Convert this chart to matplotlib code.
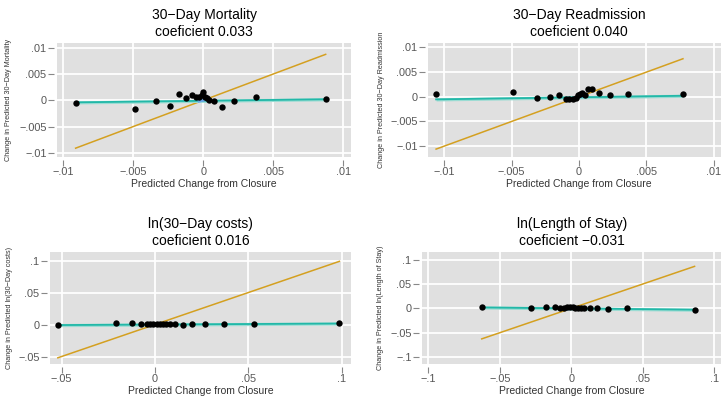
import numpy as np
import matplotlib
matplotlib.use("Agg")
import matplotlib.pyplot as plt

plt.rcParams['font.family'] = ['Liberation Sans', 'DejaVu Sans']

# binned predicted change (x) vs change in predicted outcome (y), per outcome
mort_x = [-0.00912, -0.00486, -0.00338, -0.0024, -0.00174, -0.00124, -0.00083, -0.00052,
          -0.00029, -0.00012, 0.0, 0.00012, 0.00024, 0.00043, 0.00079, 0.0013, 0.00221,
          0.00376, 0.00874]
mort_y = [-0.00045, -0.00174, -0.00014, -0.0011, 0.0011, 0.00035, 0.00104, 0.00056,
          0.0007, 0.00097, 0.0015, 0.0007, 0.00035, 0.0, -0.00014, -0.00125, -0.0002,
          0.00056, 0.0002]

readm_x = [-0.0106, -0.0049, -0.0031, -0.00217, -0.00145, -0.00099, -0.00071, -0.00042,
           -0.00022, -0.00005, 0.0001, 0.00025, 0.00044, 0.00069, 0.001, 0.0015, 0.00227,
           0.00365, 0.00771]
readm_y = [0.00065, 0.0009, -0.00028, 0.0, 0.00035, -0.00042, -0.00042, -0.0005,
           -0.0002, 0.0003, 0.0005, 0.0008, 0.00042, 0.00155, 0.00155, 0.00085, 0.0003,
           0.00056, 0.00056]

cost_x = [-0.0520, -0.0211, -0.0124, -0.0074, -0.0045, -0.0026, -0.0009, 0.0009, 0.0027,
          0.0045, 0.0057, 0.0080, 0.0108, 0.0148, 0.0199, 0.0266, 0.0368, 0.0530, 0.0988]
cost_y = [-0.0005, 0.0018, 0.0018, 0.0014, 0.001, 0.001, 0.0005, 0.001, 0.001, 0.001,
          0.0014, 0.0014, 0.001, 0.0, 0.0016, 0.001, 0.0014, 0.0014, 0.0019]

los_x = [-0.0626, -0.0284, -0.0177, -0.0114, -0.0077, -0.0049, -0.0026, -0.0007, 0.0009,
         0.0028, 0.0047, 0.0070, 0.0091, 0.0128, 0.0177, 0.0258, 0.0391, 0.0863]
los_y = [0.0020, 0.0014, 0.0020, 0.0027, 0.0014, 0.0014, 0.0020, 0.0020, 0.0020, 0.0014,
         0.0007, 0.0007, 0.0007, 0.0014, 0.0007, -0.0014, 0.0, -0.0027]

titles = ['30\u2212Day Mortality', '30\u2212Day Readmission',
          'ln(30\u2212Day costs)', 'ln(Length of Stay)']
ylabels = ['Change in Predicted 30\u2212Day Mortality',
           'Change in Predicted 30\u2212Day Readmission',
           'Change in Predicted ln(30\u2212Day costs)',
           'Change in Predicted ln(Length of Stay)']
slopes = [0.033, 0.040, 0.016, -0.031]
intercepts = [-0.0001, -0.0001, 0.0, 0.0]
blue_span = [0.0003, 0.0003, 0.002, 0.003]

xticks = [[-0.01, -0.005, 0, 0.005, 0.01], [-0.01, -0.005, 0, 0.005, 0.01],
          [-0.05, 0, 0.05, 0.1], [-0.1, -0.05, 0, 0.05, 0.1]]
yticks = [[-0.01, -0.005, 0, 0.005, 0.01], [-0.01, -0.005, 0, 0.005, 0.01],
          [-0.05, 0, 0.05, 0.1], [-0.1, -0.05, 0, 0.05, 0.1]]
xlims = [(-0.01045, 0.01055), (-0.0112, 0.0112), (-0.0562, 0.105), (-0.1044, 0.1055)]
ylims = [(-0.0108, 0.0109), (-0.0122, 0.0109), (-0.0617, 0.1134), (-0.1142, 0.1158)]

# axes boxes in pixels: left, top, right, bottom (figure is 721x397)
boxes = [(57, 43, 351, 157), (428, 43, 730, 157), (50, 252, 351, 364), (422, 252, 722, 364)]
ylab_px = [12, 385, 13, 384]

datasets = [(mort_x, mort_y), (readm_x, readm_y), (cost_x, cost_y), (los_x, los_y)]

W, H = 721, 397
fig = plt.figure(figsize=(W / 100, H / 100), dpi=100)


def fmt(v):
    if v == 0:
        return '0'
    s = ('%g' % abs(v)).lstrip('0')
    return ('\u2212' if v < 0 else '') + s


for i, (xs, ys) in enumerate(datasets):
    l, t, r, b = boxes[i]
    ax = fig.add_axes([l / W, 1 - b / H, (r - l) / W, (b - t) / H])
    ax.set_facecolor('#e0e0e0')
    for s in ax.spines.values():
        s.set_visible(False)
    ax.spines['bottom'].set_position(('outward', 2))
    ax.spines['left'].set_position(('outward', 2))
    xs = np.array(xs)
    ys = np.array(ys)
    x0, x1 = xs.min(), xs.max()

    # 45 degree reference line
    ax.plot([x0, x1], [x0, x1], color='#d4a020', lw=1.1, zorder=3)
    # fitted line with a thin band around it
    fx = np.array([x0, x1])
    fy = intercepts[i] + slopes[i] * fx
    px = (ylims[i][1] - ylims[i][0]) / (b - t)
    ax.fill_between(fx, fy - 1.6 * px, fy + 1.6 * px, color='#9adcd3', lw=0, zorder=3)
    ax.plot(fx, fy, color='#22b8a8', lw=1.3, zorder=4)
    d = blue_span[i]
    ax.plot([-d, d], [-d * 0.6, d * 0.6], color='#6aa6e8', lw=2, zorder=4)
    ax.scatter(xs, ys, s=21, color='black', zorder=5, lw=0)

    ax.set_xlim(*xlims[i])
    ax.set_ylim(*ylims[i])
    ax.set_xticks(xticks[i])
    ax.set_yticks(yticks[i])
    ax.set_xticklabels([fmt(v) for v in xticks[i]])
    ax.set_yticklabels([fmt(v) for v in yticks[i]])
    ax.grid(True, color='white', lw=1.3)
    ax.set_axisbelow(True)
    ax.tick_params(axis='both', length=4, width=0.8, color='#888888', labelsize=7.8,
                   labelcolor='#555555', pad=1.5)
    ax.set_xlabel('Predicted Change from Closure', fontsize=7.5, color='#333333', labelpad=1)
    ax.set_ylabel(ylabels[i], fontsize=5.2, color='#333333')
    ax.yaxis.set_label_coords((ylab_px[i] - l) / (r - l), 0.5)
    ax.set_title('%s\ncoeficient %s' % (titles[i], ('%.3f' % slopes[i]).replace('-', '\u2212')),
                 fontsize=10, linespacing=1.25, pad=5)

fig.savefig('out.png', dpi=100)
